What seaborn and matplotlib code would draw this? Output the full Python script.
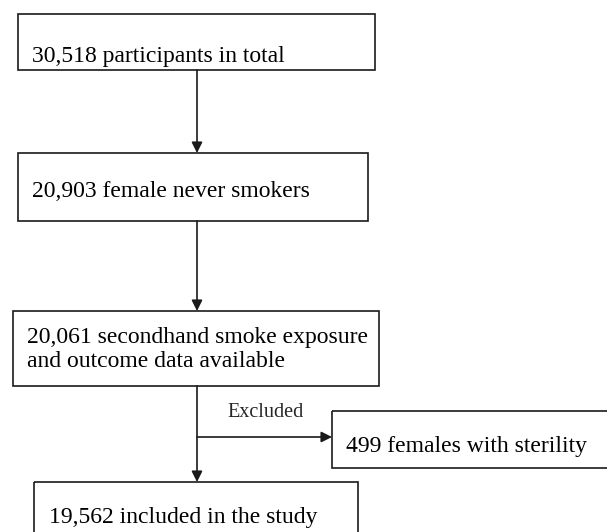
import matplotlib
matplotlib.use("Agg")
import matplotlib.pyplot as plt
from matplotlib.patches import Rectangle
import seaborn as sns

# flowchart content
counts = ["30,518", "20,903", "20,061", "499", "19,562"]
labels = [
    "participants in total",
    "female never smokers",
    "secondhand smoke exposure\nand outcome data available",
    "females with sterility",
    "included in the study",
]
branch_label = "Excluded"

sns.set_style("white")
plt.rcParams["font.family"] = ["Liberation Serif", "DejaVu Serif"]

# box geometry in pixels (x0, y0, x1, y1) and text anchor (x, first baseline y)
boxes = [(18, 14, 375, 70), (18, 153, 368, 221), (13, 311, 379, 386),
         (332, 411, 612, 468), (34, 482, 358, 540)]
text_pos = [(32, 62), (32, 197), (27, 343), (346, 452), (49, 523)]
line_step = 24

fig = plt.figure(figsize=(6.07, 5.32), dpi=100)
ax = fig.add_axes([0, 0, 1, 1])
ax.set_xlim(0, 607)
ax.set_ylim(532, 0)
ax.axis("off")

lc = "#1a1a1a"
lw = 1.2

for (x0, y0, x1, y1), (tx, ty), n, lab in zip(boxes, text_pos, counts, labels):
    ax.add_patch(Rectangle((x0, y0), x1 - x0, y1 - y0, fill=False,
                           edgecolor=lc, linewidth=lw, clip_on=False))
    for i, line in enumerate(f"{n} {lab}".split("\n")):
        ax.text(tx, ty + i * line_step, line, fontsize=17, va="baseline",
                ha="left", color="black")

arrow = dict(arrowstyle="-|>", color=lc, lw=lw, mutation_scale=16,
             shrinkA=0, shrinkB=0)
cx = 197
ax.annotate("", xy=(cx, 153), xytext=(cx, 70), arrowprops=arrow)
ax.annotate("", xy=(cx, 311), xytext=(cx, 221), arrowprops=arrow)
ax.annotate("", xy=(cx, 482), xytext=(cx, 386), arrowprops=arrow)
ax.annotate("", xy=(332, 437), xytext=(cx, 437), arrowprops=arrow)
ax.text(227, 417, branch_label, fontsize=14.5, va="baseline", ha="left")

fig.savefig("out.png", dpi=100)
